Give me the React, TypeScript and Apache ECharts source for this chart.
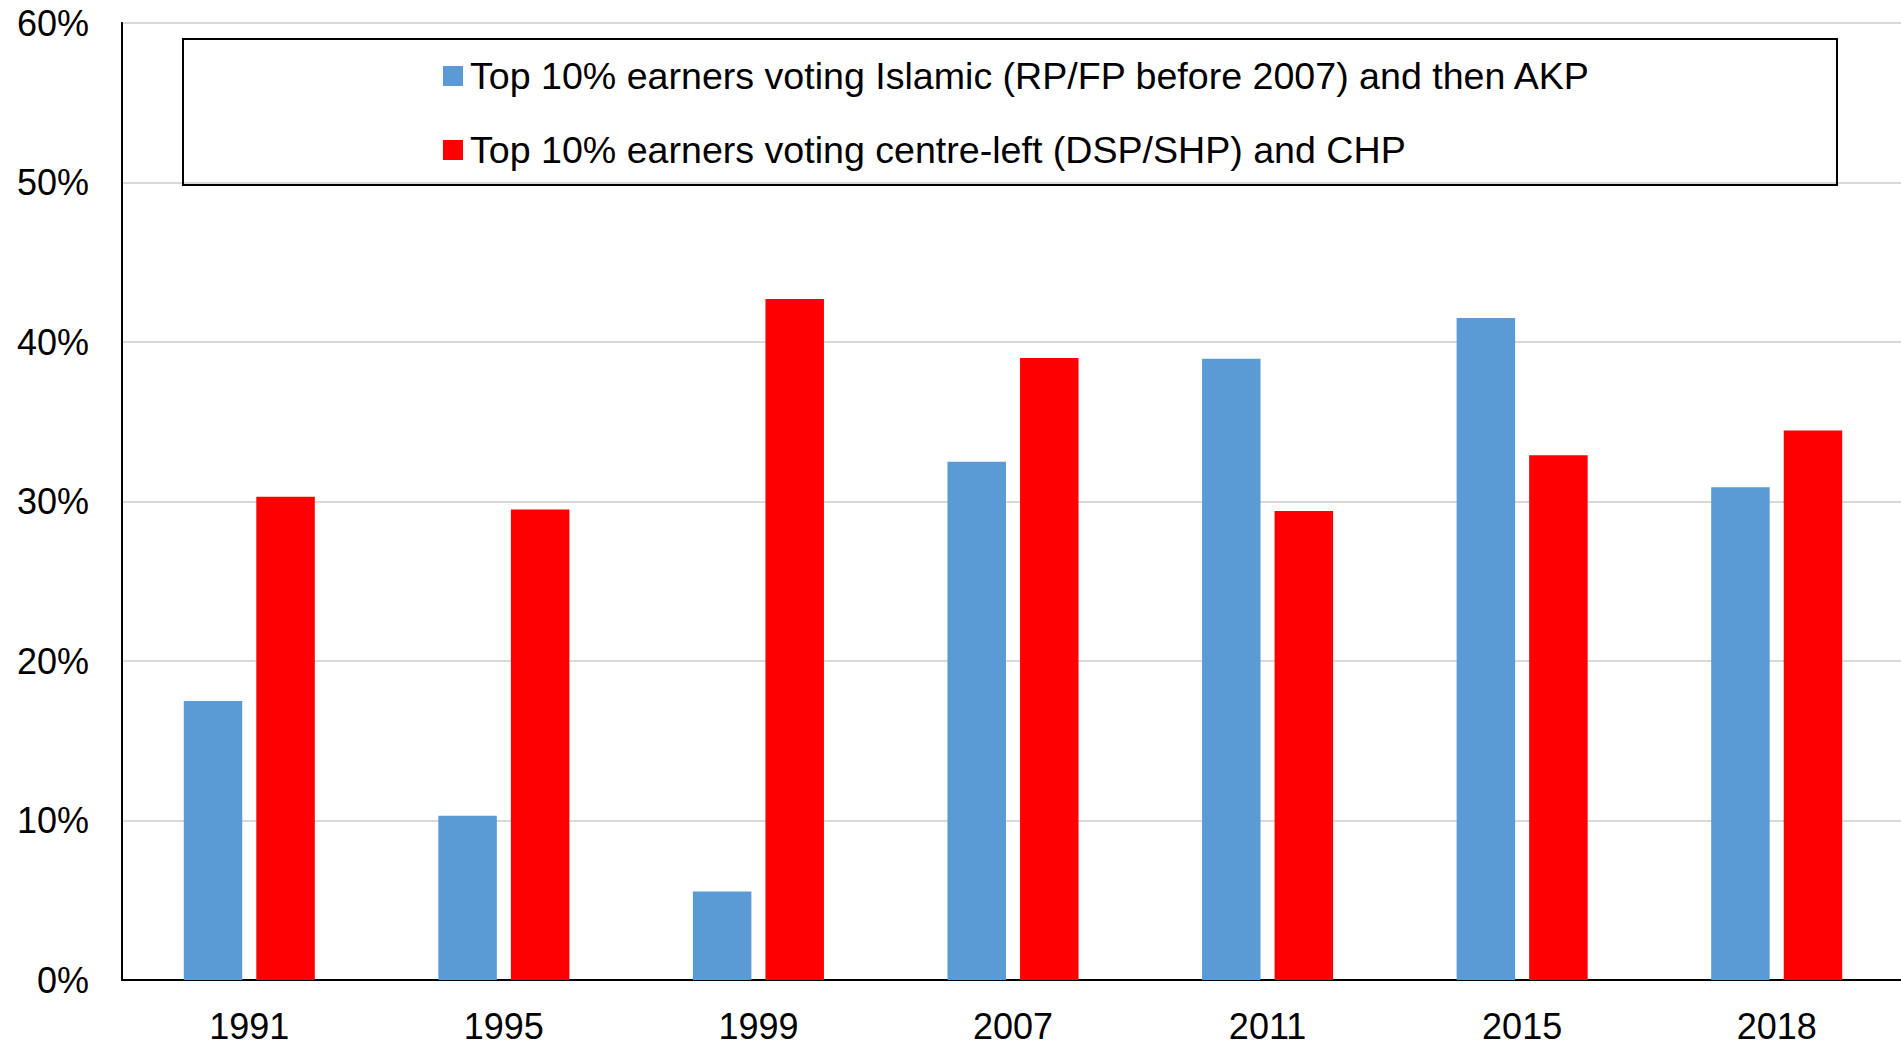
import React, { useEffect, useRef } from "react";
import * as echarts from "echarts";

const categories = ["1991", "1995", "1999", "2007", "2011", "2015", "2018"];
const islamicValues = [17.5, 10.3, 5.55, 32.5, 38.95, 41.5, 30.9];
const centreLeftValues = [30.3, 29.5, 42.7, 39.0, 29.4, 32.9, 34.45];
const seriesNames = [
  "Top 10% earners voting Islamic (RP/FP before 2007) and then AKP",
  "Top 10% earners voting centre-left (DSP/SHP) and CHP",
];
const yTicks = { min: 0, max: 60, interval: 10 };

const FONT = "'Liberation Sans', Arial, sans-serif";

export default function App() {
  const ref = useRef<HTMLDivElement>(null);
  useEffect(() => {
    if (!ref.current) return;
    const chart = echarts.init(ref.current, null, { renderer: "svg" });
    chart.setOption({
      animation: false,
      backgroundColor: "#ffffff",
      textStyle: { fontFamily: FONT },
      grid: {
        left: 122,
        top: 23,
        width: 1782,
        height: 957,
        containLabel: false,
        outerBoundsMode: "none",
        show: true,
        borderColor: "#000000",
        borderWidth: 2,
        backgroundColor: "transparent",
      },
      legend: {
        orient: "vertical",
        left: 443,
        top: 57,
        itemWidth: 20,
        itemHeight: 20,
        itemGap: 36,
        icon: "rect",
        padding: 0,
        textStyle: { fontSize: 37.6, color: "#000000", fontFamily: FONT, padding: [0, 0, 0, 2] },
        data: seriesNames,
      },
      graphic: [
        {
          type: "rect",
          shape: { x: 183, y: 39, width: 1654, height: 146 },
          style: { fill: "transparent", stroke: "#000000", lineWidth: 2 },
          z: 10,
        },
      ],
      xAxis: {
        type: "category",
        data: categories,
        axisLine: { show: true, lineStyle: { color: "#000000", width: 2 } },
        axisTick: { show: false },
        axisLabel: { fontSize: 36, color: "#000000", fontFamily: FONT, margin: 28 },
        splitLine: { show: false },
      },
      yAxis: {
        type: "value",
        min: yTicks.min,
        max: yTicks.max,
        interval: yTicks.interval,
        axisLine: { show: true, lineStyle: { color: "#000000", width: 2 } },
        axisTick: { show: false },
        axisLabel: {
          fontSize: 36,
          color: "#000000",
          fontFamily: FONT,
          margin: 33,
          formatter: "{value}%",
        },
        splitLine: { show: true, lineStyle: { color: "#d9d9d9", width: 2 } },
      },
      series: [
        {
          name: seriesNames[0],
          type: "bar",
          data: islamicValues,
          barWidth: 58.5,
          barGap: "24%",
          itemStyle: { color: "#5B9BD5" },
        },
        {
          name: seriesNames[1],
          type: "bar",
          data: centreLeftValues,
          barWidth: 58.5,
          barGap: "24%",
          itemStyle: { color: "#FF0000" },
        },
      ],
    });
    return () => chart.dispose();
  }, []);
  return (
    <div
      ref={ref}
      style={{ position: "fixed", left: 0, top: 0, width: 1901, height: 1041, background: "#fff" }}
    />
  );
}
